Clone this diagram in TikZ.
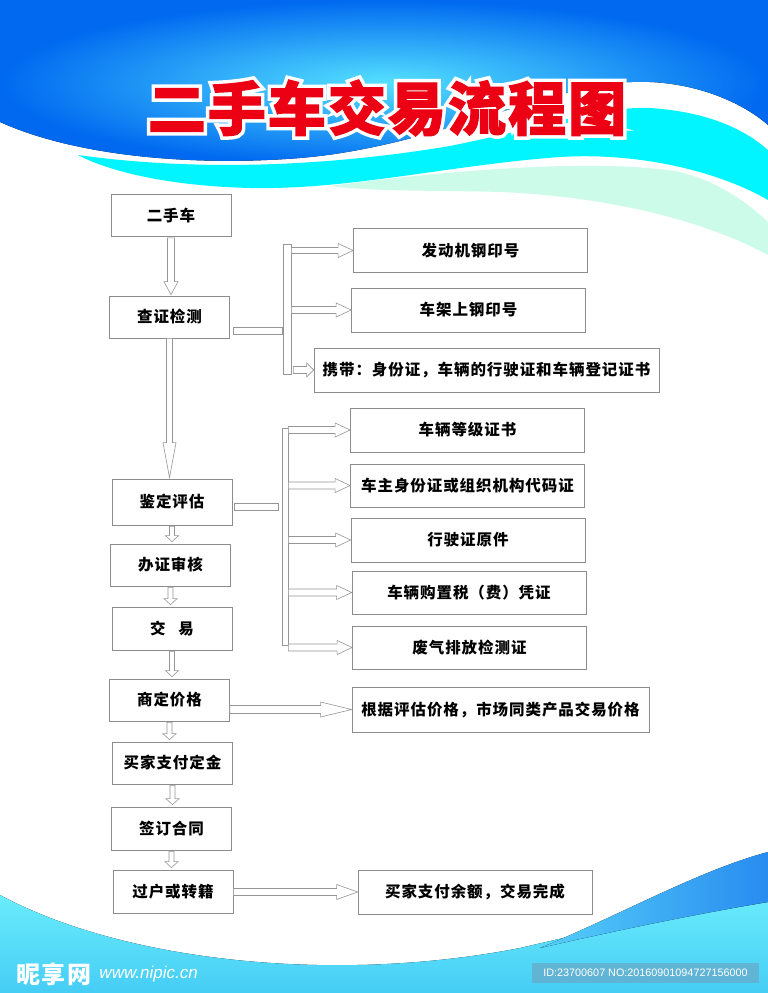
\documentclass[tikz,border=0pt]{standalone}
\usepackage{fontspec}
\usetikzlibrary{calc, positioning}

\newfontfamily\cjk{Noto Sans CJK SC}[LetterSpace=6]
\newfontfamily\cjktitle{Noto Sans CJK SC}[LetterSpace=3.5, FakeBold=2]
\newfontfamily\cjkedge{Noto Sans CJK SC}[LetterSpace=3.5, FakeBold=14]
\newfontfamily\latin{Liberation Sans}

\definecolor{linegray}{RGB}{140,140,140}
\definecolor{arrgray}{RGB}{150,150,150}
\definecolor{bluedeep}{RGB}{0,105,240}
\definecolor{bluelight}{RGB}{85,225,255}
\definecolor{aquaband}{RGB}{0,245,255}
\definecolor{mintband}{RGB}{185,250,225}
\definecolor{seacyan}{RGB}{105,236,252}
\definecolor{seadeep}{RGB}{70,205,245}
\definecolor{seablue}{RGB}{40,140,240}
\definecolor{titlered}{RGB}{235,0,20}
\definecolor{idblue}{RGB}{110,160,190}

\newcommand\boxfont{\cjk\bfseries\fontsize{15.5}{17}\selectfont}

\tikzset{
  box/.style={draw=linegray, fill=white, line width=0.7pt, inner sep=0pt, font=\boxfont},
  lbox/.style={box, minimum width=120pt, minimum height=42pt},
  rbox/.style={box, minimum width=234pt, minimum height=44pt},
  bar/.style={draw=arrgray, fill=white, line width=0.6pt, inner sep=0pt},
  harr/.style n args={3}{draw=arrgray, fill=white, line width=0.6pt,
    to path={let \p1=(\tikztostart), \p2=(\tikztotarget) in
      (\x1,\y2+#1pt) -- (\x2-#3pt,\y2+#1pt) -- (\x2-#3pt,\y2+#2pt) -- (\x2,\y2)
      -- (\x2-#3pt,\y2-#2pt) -- (\x2-#3pt,\y2-#1pt) -- (\x1,\y2-#1pt) -- cycle}},
  varr/.style n args={3}{draw=arrgray, fill=white, line width=0.6pt,
    to path={let \p1=(\tikztostart), \p2=(\tikztotarget) in
      (\x1-#1pt,\y1) -- (\x1-#1pt,\y2+#3pt) -- (\x1-#2pt,\y2+#3pt) -- (\x1,\y2)
      -- (\x1+#2pt,\y2+#3pt) -- (\x1+#1pt,\y2+#3pt) -- (\x1+#1pt,\y1) -- cycle}},
  hlink/.style={draw=arrgray, fill=white, line width=0.6pt,
    to path={let \p1=(\tikztostart), \p2=(\tikztotarget) in
      (\x1,\y1+#1pt) rectangle (\x2,\y1-#1pt)}},
}

\begin{document}
\begin{tikzpicture}[x=1pt, y=-1pt]
\useasboundingbox (0,0) rectangle (768,993);
\fill[white] (0,0) rectangle (768,993);

% waves on top
\fill[mintband, opacity=.7] (330,186) .. controls (450,170) and (600,158) .. (680,172)
  .. controls (720,182) and (750,205) .. (768,222) -- (768,255)
  .. controls (700,218) and (600,196) .. (500,192) .. controls (430,190) and (380,192) .. (330,186) -- cycle;
\fill[aquaband] (78,155) .. controls (200,172) and (330,166) .. (450,146)
  .. controls (540,128) and (600,106) .. (650,108) .. controls (710,112) and (745,130) .. (768,150)
  -- (768,200) .. controls (720,172) and (640,152) .. (560,157)
  .. controls (450,165) and (350,190) .. (250,188) .. controls (170,186) and (110,172) .. (78,155) -- cycle;
\fill[inner color=bluelight, outer color=bluedeep] (0,0) -- (768,0) -- (768,125)
  .. controls (740,100) and (680,74) .. (610,84) .. controls (520,98) and (420,148) .. (300,158)
  .. controls (200,166) and (80,158) .. (0,122) -- cycle;

% waves at the bottom
\fill[top color=seacyan, bottom color=seadeep] (0,895) .. controls (120,960) and (330,985) .. (520,948)
  .. controls (620,925) and (700,905) .. (768,898) -- (768,993) -- (0,993) -- cycle;
\fill[left color=seablue!30!seacyan, right color=seablue] (540,948) .. controls (620,915) and (700,870) .. (768,852)
  -- (768,902) .. controls (690,915) and (610,932) .. (540,948) -- cycle;

\node[font=\cjkedge\bfseries\fontsize{58}{60}\selectfont, text=white] (titlebg) at (387,108) {二手车交易流程图};
\node[font=\cjktitle\bfseries\fontsize{58}{60}\selectfont, text=titlered] (title) at (titlebg) {二手车交易流程图};

\node[lbox] (used) at (171,215.5) {二手车};
\node[lbox] (chk) at (169.5,317) {查证检测};
\node[lbox, minimum height=46pt] (eval) at (172,502) {鉴定评估};
\node[lbox] (cert) at (170.5,565) {办证审核};
\node[lbox, minimum height=43pt] (deal) at (172,628.5) {交\hspace{13pt}易};
\node[lbox] (price) at (169.5,700) {商定价格};
\node[lbox] (deposit) at (172.5,763) {买家支付定金};
\node[lbox, minimum height=43pt] (contract) at (171.5,828.5) {签订合同};
\node[lbox, minimum height=43pt] (transfer) at (173,891.5) {过户或转籍};

\node[bar, minimum width=8pt, minimum height=130pt] (bar1) at (287,309) {};
\node[rbox] (r1) at (470.5,250.5) {发动机钢印号};
\node[rbox] (r2) at (468.5,310) {车架上钢印号};
\node[rbox, minimum width=345pt] (r3) at (486.5,370) {携带：身份证，车辆的行驶证和车辆登记证书};

\node[bar, minimum width=6pt, minimum height=217pt] (bar2) at (285,536.5) {};
\node[rbox] (s1) at (467.5,430) {车辆等级证书};
\node[rbox, minimum height=43pt] (s2) at (467.5,485.5) {车主身份证或组织机构代码证};
\node[rbox] (s3) at (468,540) {行驶证原件};
\node[rbox, minimum height=43pt] (s4) at (469,592.5) {车辆购置税（费）凭证};
\node[rbox, minimum height=43pt] (s5) at (469.5,647.5) {废气排放检测证};

\node[rbox, minimum width=297pt, minimum height=45pt] (p1) at (500.5,709.5) {根据评估价格，市场同类产品交易价格};
\node[rbox] (f1) at (475,892) {买家支付余额，交易完成};

\draw[varr={3.5}{7}{13}] ([yshift=-1pt]used.south) to ([yshift=1pt]chk.north);
\draw[varr={3}{6.5}{35}] (chk.south) to ([yshift=1pt]eval.north);
\foreach \a/\b in {eval/cert, cert/deal, deal/price, price/deposit, deposit/contract, contract/transfer}
  \draw[varr={2.5}{6.5}{6}] ([yshift=-1pt]\a.south) to ([yshift=2pt]\b.north);

\draw[hlink=3.5] ([xshift=3pt,yshift=-13.5pt]chk.east) to (bar1.west);
\draw[harr={3}{7}{15}] (bar1.east) to (r1.west);
\draw[harr={3.5}{7}{15}] (bar1.east) to (r2.west);
\draw[harr={3.5}{7}{7}] ([xshift=2pt]bar1.east) to (r3.west);

\draw[hlink=3.5] ([xshift=2pt,yshift=-4.5pt]eval.east) to ([xshift=-3pt]bar2.west);
\foreach \t in {s1,s2,s3,s4,s5}
  \draw[harr={3.5}{7}{15}] (bar2.east) to (\t.west);

\draw[harr={4}{7.5}{31}] (price.east) to (p1.west);
\draw[harr={3.5}{7.5}{21}] (transfer.east) to (f1.west);

\node[font=\cjk\bfseries\fontsize{24}{26}\selectfont, text=white, anchor=west, inner sep=0pt] (wm) at (16,974) {昵享网};
\node[font=\latin\itshape\fontsize{17}{19}\selectfont, text=white, anchor=west, inner sep=0pt] (wmurl) at ([xshift=8pt]wm.east) {www.nipic.cn};
\node[fill=idblue, fill opacity=.6, text opacity=1, text=white, minimum width=227pt, minimum height=20pt,
  inner sep=0pt, font=\latin\fontsize{10.8}{12}\selectfont] (idtag) at (645.5,973) {ID:23700607 NO:20160901094727156000};
\end{tikzpicture}
\end{document}
